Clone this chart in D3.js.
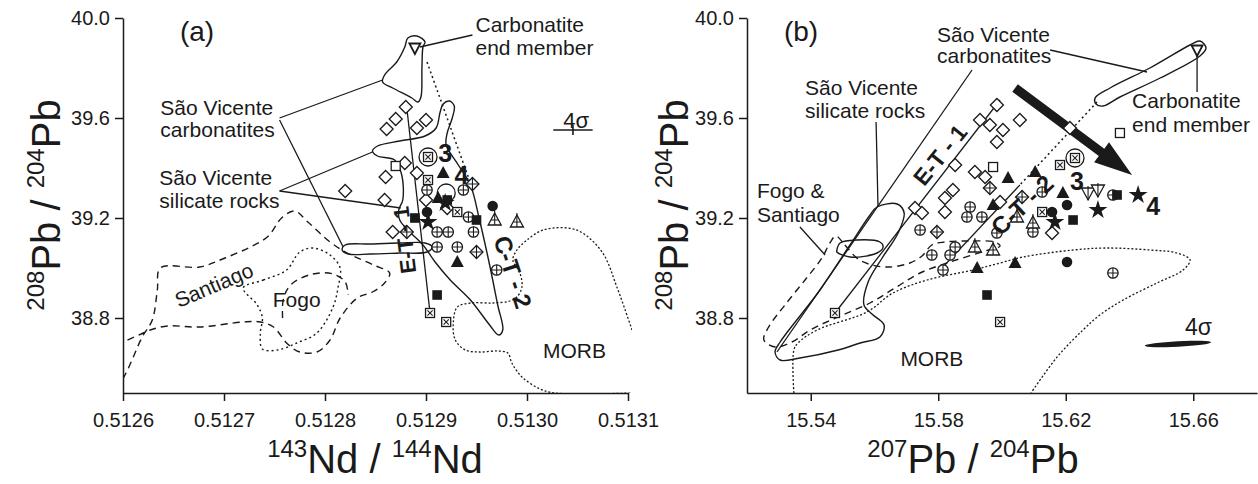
<!DOCTYPE html>
<html>
<head>
<meta charset="utf-8">
<script src="https://cdn.jsdelivr.net/npm/d3@7"></script>
<style>
  body { margin: 0; background: #fff; }
  svg { display: block; }
  text { font-family: "Liberation Sans", Arial, sans-serif; fill: #1a1a1a; }
</style>
</head>
<body>
<svg id="fig" width="1258" height="484"></svg>
<script>
// ---------------- Axis ticks ----------------
const ndTicks = [0.5126, 0.5127, 0.5128, 0.5129, 0.5130, 0.5131];
const pb207Ticks = [15.54, 15.58, 15.62, 15.66];
const pb208Ticks = [38.8, 39.2, 39.6, 40.0];

// ---------------- Panel (a): 143Nd/144Nd vs 208Pb/204Pb samples ----------------
const aDiamond = [[0.512880,39.644],[0.512870,39.596],[0.512861,39.556],[0.512891,39.560],[0.512900,39.592],
  [0.512879,39.420],[0.512891,39.380],[0.512860,39.364],[0.512859,39.272],[0.512867,39.144],
  [0.512900,39.272],[0.512921,39.240],[0.512820,39.308]];
const aSquare = [[0.512870,39.408]];
const aBoxX = [[0.512902,39.444],[0.512902,39.352],[0.512931,39.224],[0.512904,38.820],[0.512920,38.784]];
const aRinged = [[0.512902,39.444],[0.512920,39.300]];
const aCrossCircle = [[0.512901,39.312],[0.512937,39.312],[0.512911,39.144],[0.512922,39.144],[0.512942,39.204],
  [0.512947,39.144],[0.512911,39.084],[0.512970,38.992],[0.512931,39.084]];
const aCrossDiamond = [[0.512946,39.336],[0.512881,39.144],[0.512950,39.064]];
const aDot = [[0.512966,39.248],[0.512901,39.224]];
const aTriangle = [[0.512917,39.380],[0.512931,39.024],[0.512912,39.280]];
const aCrossTriangle = [[0.512968,39.192],[0.512990,39.184]];
const aBlock = [[0.512889,39.200],[0.512911,38.892],[0.512950,39.192],[0.512921,39.272]];
const aStar = [[0.512902,39.184],[0.512919,39.260]];
const aEndMember = [[0.512889,39.880]];

// fields and lines (a)
const aCarbTop = [[0.512882,39.920],[0.512891,39.928],[0.512899,39.904],[0.512897,39.884],[0.512896,39.804],
  [0.512895,39.684],[0.512892,39.664],[0.512886,39.680],[0.512867,39.720],[0.512857,39.744],[0.512859,39.772],
  [0.512871,39.824],[0.512879,39.884]];
const aCarbLow = [[0.512820,39.092],[0.512845,39.096],[0.512874,39.100],[0.512899,39.100],[0.512906,39.084],
  [0.512901,39.064],[0.512874,39.060],[0.512845,39.056],[0.512823,39.056],[0.512817,39.072]];
const aSilicate = [[0.512917,39.656],[0.512923,39.668],[0.512928,39.648],[0.512926,39.600],[0.512921,39.540],
  [0.512920,39.492],[0.512932,39.412],[0.512944,39.332],[0.512953,39.192],[0.512963,39.012],[0.512971,38.852],
  [0.512976,38.752],[0.512972,38.732],[0.512963,38.772],[0.512944,38.872],[0.512924,38.952],[0.512909,39.024],
  [0.512897,39.092],[0.512884,39.144],[0.512874,39.192],[0.512873,39.232],[0.512877,39.272],[0.512876,39.372],
  [0.512869,39.432],[0.512852,39.448],[0.512847,39.468],[0.512852,39.488],[0.512874,39.508],[0.512899,39.528],
  [0.512910,39.560],[0.512914,39.624]];
const aSantiago = [[0.512582,38.432],[0.512603,38.580],[0.512619,38.724],[0.512629,38.792],[0.512634,38.912],
  [0.512637,39.000],[0.512676,39.004],[0.512701,39.040],[0.512728,39.088],[0.512744,39.128],[0.512757,39.200],
  [0.512770,39.228],[0.512783,39.184],[0.512805,39.104],[0.512822,39.060],[0.512848,39.012],[0.512864,38.980],
  [0.512859,38.940],[0.512847,38.904],[0.512832,38.880],[0.512815,38.800],[0.512805,38.712],[0.512792,38.664],
  [0.512775,38.664],[0.512763,38.696],[0.512749,38.764],[0.512736,38.784],[0.512719,38.784],[0.512676,38.764],
  [0.512644,38.768],[0.512627,38.752],[0.512618,38.736],[0.512600,38.704],[0.512577,38.664]];
const aSantiagoInner = [[0.512758,38.800],[0.512759,38.880],[0.512767,38.936],[0.512788,38.976],[0.512808,38.976],
  [0.512820,38.944],[0.512823,38.892]];
const aFogo = [[0.512719,38.920],[0.512739,38.952],[0.512762,38.992],[0.512775,39.064],[0.512788,39.080],
  [0.512805,39.052],[0.512815,39.000],[0.512813,38.924],[0.512808,38.844],[0.512792,38.740],[0.512772,38.700],
  [0.512753,38.672],[0.512738,38.676],[0.512736,38.740],[0.512738,38.800],[0.512733,38.852]];
const aMorb = [[0.513104,38.752],[0.513089,38.924],[0.513075,39.060],[0.513055,39.140],[0.513040,39.160],
  [0.513016,39.152],[0.513000,39.112],[0.512990,39.072],[0.512986,39.032],[0.512993,38.980],[0.512995,38.924],
  [0.512990,38.884],[0.512983,38.868],[0.512966,38.860],[0.512944,38.860],[0.512931,38.844],[0.512927,38.780],
  [0.512929,38.712],[0.512939,38.672],[0.512953,38.664],[0.512971,38.668],[0.512981,38.660],[0.512985,38.620],
  [0.512995,38.564],[0.513013,38.516],[0.513028,38.500],[0.513104,38.500]];
const aTieET1 = [[0.512881,39.640],[0.512904,38.820]];
const aMixLine = [[0.512901,39.824],[0.512944,39.340]];
const aLeaders = [
  [[0.512755,39.600],[0.512857,39.752]],
  [[0.512755,39.592],[0.512818,39.084]],
  [[0.512755,39.308],[0.512847,39.464]],
  [[0.512755,39.308],[0.512875,39.240]],
  [[0.512894,39.884],[0.512946,39.932]]
];
const aSigmaBar = [[0.513026,39.552],[0.513065,39.552]];

// ---------------- Panel (b): 207Pb/204Pb vs 208Pb/204Pb samples ----------------
const bDiamond = [[15.5984,39.652],[15.5931,39.592],[15.5962,39.572],[15.6003,39.552],[15.6056,39.592],
  [15.5984,39.504],[15.5853,39.412],[15.5915,39.384],[15.5947,39.364],[15.5846,39.312],[15.5821,39.280],
  [15.5727,39.240],[15.5749,39.220],[15.5821,39.224],[15.5994,39.264],[15.6157,39.140],[15.6213,39.560]];
const bSquare = [[15.5972,39.404],[15.6370,39.540]];
const bBoxX = [[15.6182,39.412],[15.6229,39.440],[15.6126,39.224],[15.5476,38.820],[15.5994,38.784]];
const bRinged = [[15.6229,39.440]];
const bCrossCircle = [[15.5900,39.244],[15.5937,39.204],[15.5890,39.204],[15.6126,39.304],[15.5984,39.140],
  [15.5743,39.152],[15.5780,39.052],[15.5837,39.052],[15.5853,39.084],[15.5815,38.992],[15.6097,39.144],
  [15.6348,39.292],[15.6348,38.980]];
const bCrossDiamond = [[15.5962,39.320],[15.6063,39.284],[15.5796,39.144]];
const bDot = [[15.6204,39.024],[15.6204,39.252],[15.6157,39.224]];
const bTriangle = [[15.6104,39.384],[15.6191,39.300],[15.6019,39.360],[15.5972,39.252],[15.6041,39.020],[15.5922,39.000]];
const bCrossTriangle = [[15.6047,39.204],[15.6097,39.180],[15.5972,39.072],[15.5915,39.084]];
const bCrossNabla = [[15.6270,39.300],[15.6301,39.312]];
const bBlock = [[15.6223,39.192],[15.6361,39.292],[15.5953,38.892]];
const bStar = [[15.6427,39.292],[15.6301,39.232],[15.6166,39.184]];
const bEndMember = [[15.6612,39.872]];

// fields and lines (b)
const bCarb = [[15.6292,39.680],[15.6339,39.720],[15.6464,39.800],[15.6590,39.892],[15.6621,39.908],[15.6640,39.880],
  [15.6621,39.848],[15.6496,39.760],[15.6370,39.684],[15.6317,39.648],[15.6295,39.656]];
const bCarbLow = [[15.5482,39.072],[15.5492,39.100],[15.5545,39.112],[15.5617,39.104],[15.5627,39.084],
  [15.5608,39.060],[15.5523,39.044],[15.5482,39.064]];
const bSilicate = [[15.5608,39.244],[15.5671,39.256],[15.5693,39.220],[15.5674,39.140],[15.5624,39.040],
  [15.5580,38.944],[15.5567,38.852],[15.5592,38.816],[15.5630,38.772],[15.5617,38.724],[15.5555,38.700],
  [15.5486,38.672],[15.5366,38.640],[15.5304,38.632],[15.5288,38.664],[15.5304,38.704],[15.5429,38.912],
  [15.5523,39.092],[15.5586,39.212]];
const bFogoSantiago = [[15.5479,39.128],[15.5507,39.092],[15.5548,39.036],[15.5592,39.012],[15.5649,39.004],
  [15.5711,39.020],[15.5749,39.048],[15.5780,39.092],[15.5821,39.104],[15.5900,39.108],[15.5978,39.104],
  [15.5994,39.088],[15.5947,39.068],[15.5837,39.024],[15.5743,38.980],[15.5664,38.920],[15.5586,38.860],
  [15.5492,38.808],[15.5398,38.752],[15.5341,38.704],[15.5288,38.684],[15.5253,38.712],[15.5266,38.760],
  [15.5319,38.852],[15.5382,38.952],[15.5435,39.040],[15.5460,39.100]];
const bMorb = [[15.5347,38.500],[15.5347,38.672],[15.5360,38.700],[15.5420,38.752],[15.5576,38.824],
  [15.5658,38.900],[15.5765,38.952],[15.5909,38.992],[15.5994,39.020],[15.6066,39.044],[15.6223,39.072],
  [15.6329,39.080],[15.6464,39.072],[15.6549,39.060],[15.6590,39.032],[15.6568,38.992],[15.6486,38.940],
  [15.6380,38.872],[15.6307,38.812],[15.6254,38.752],[15.6173,38.644],[15.6091,38.500]];
const bTieET1 = [[[15.5906,39.792],[15.5294,38.664]], [[15.5994,39.672],[15.5476,38.820]]];
const bTieCT2 = [[15.6056,39.332],[15.5806,38.992]];
const bMixLine = [[15.6298,39.664],[15.6056,39.332]];
const bLeaders = [
  [[15.6151,39.872],[15.6455,39.784]],
  [[15.5605,39.584],[15.5611,39.244]],
  [[15.5366,39.164],[15.5445,39.052]],
  [[15.6612,39.852],[15.6612,39.704]]
];
const bTrendArrow = [[15.6041,39.720],[15.6408,39.372]];
const bSigmaEllipse = {x: 15.6552, y: 38.696, dx: 0.0104, dy: 0.011};

// ---------------- Layout ----------------
const svg = d3.select("#fig");
const plotTop = 18, plotBottom = 393;
const y = d3.scaleLinear().domain([38.5, 40.0]).range([plotBottom, plotTop]);
const xa = d3.scaleLinear().domain([0.5126, 0.5131]).range([123, 628]);
const xb = d3.scaleLinear().domain([15.52, 15.68]).range([747, 1257]);

const INK = "#1a1a1a";

function axes(g, x, majorX, minorX, fmtX) {
  const ax = g.append("g").attr("transform", `translate(0,${plotBottom})`);
  ax.call(d3.axisBottom(x).tickValues(minorX).tickSize(5).tickSizeOuter(0).tickFormat(""));
  ax.call(d3.axisBottom(x).tickValues(majorX).tickSize(8).tickSizeOuter(0).tickPadding(12).tickFormat(fmtX));
  const ay = g.append("g").attr("transform", `translate(${x.range()[0]},0)`);
  ay.call(d3.axisLeft(y).tickValues(d3.range(0, 16).map(i => 38.5 + i * 0.1)).tickSize(5).tickSizeOuter(0).tickFormat(""));
  ay.call(d3.axisLeft(y).tickValues(pb208Ticks).tickSize(8).tickSizeOuter(0).tickPadding(5).tickFormat(d3.format(".1f")));
  g.selectAll(".domain, .tick line").attr("stroke", INK).attr("stroke-width", 1.5);
  g.selectAll(".tick text").attr("font-size", 20).attr("fill", INK)
    .attr("font-family", '"Liberation Sans", Arial, sans-serif');
}

function isoTitle(g, parts, xPos, yPos, rotate) {
  const t = g.append("text")
    .attr("text-anchor", "middle")
    .attr("transform", `translate(${xPos},${yPos})` + (rotate ? " rotate(-90)" : ""))
    .attr("font-size", 40);
  parts.forEach(([sup, el], i) => {
    t.append("tspan").attr("font-size", 24).attr("dy", -16).text(sup);
    t.append("tspan").attr("dy", 16).text(el + (i === 0 ? " / " : ""));
  });
}

function fieldLine(g, x, pts, closed, dash, width) {
  const line = d3.line().x(d => x(d[0])).y(d => y(d[1]))
    .curve(closed ? d3.curveCatmullRomClosed.alpha(0.5) : d3.curveCatmullRom.alpha(0.5));
  g.append("path").attr("d", line(pts)).attr("fill", "none")
    .attr("stroke", INK).attr("stroke-width", width || 1.4)
    .attr("stroke-dasharray", dash || null).attr("stroke-linejoin", "round");
}

function straight(g, x, seg, dash, width) {
  g.append("line").attr("x1", x(seg[0][0])).attr("y1", y(seg[0][1]))
    .attr("x2", x(seg[1][0])).attr("y2", y(seg[1][1]))
    .attr("stroke", INK).attr("stroke-width", width || 1.3)
    .attr("stroke-dasharray", dash || null);
}

// sample symbols
const SW = 1.3;
const drawers = {
  diamond: (s) => s.append("path").attr("d", "M0,-6.5L6.5,0L0,6.5L-6.5,0Z").attr("fill", "#fff").attr("stroke", INK).attr("stroke-width", SW),
  square: (s) => s.append("rect").attr("x", -4.5).attr("y", -4.5).attr("width", 9).attr("height", 9).attr("fill", "#fff").attr("stroke", INK).attr("stroke-width", SW),
  boxX: (s) => {
    s.append("rect").attr("x", -4.5).attr("y", -4.5).attr("width", 9).attr("height", 9).attr("fill", "#fff").attr("stroke", INK).attr("stroke-width", SW);
    s.append("path").attr("d", "M-2.6,-2.6L2.6,2.6M2.6,-2.6L-2.6,2.6").attr("stroke", INK).attr("stroke-width", 1.1);
  },
  ring: (s) => s.append("circle").attr("r", 9).attr("fill", "none").attr("stroke", INK).attr("stroke-width", SW),
  crossCircle: (s) => {
    s.append("circle").attr("r", 5.2).attr("fill", "#fff").attr("stroke", INK).attr("stroke-width", SW);
    s.append("path").attr("d", "M-5.2,0H5.2M0,-5.2V5.2").attr("stroke", INK).attr("stroke-width", 1.1);
  },
  crossDiamond: (s) => {
    s.append("path").attr("d", "M0,-6.5L6.5,0L0,6.5L-6.5,0Z").attr("fill", "#fff").attr("stroke", INK).attr("stroke-width", SW);
    s.append("path").attr("d", "M-6.5,0H6.5M0,-6.5V6.5").attr("stroke", INK).attr("stroke-width", 1.1);
  },
  dot: (s) => s.append("circle").attr("r", 5.3).attr("fill", INK),
  triangle: (s) => s.append("path").attr("d", "M0,-7L6.5,5L-6.5,5Z").attr("fill", INK),
  crossTriangle: (s) => {
    s.append("path").attr("d", "M0,-7L6.5,5L-6.5,5Z").attr("fill", "#fff").attr("stroke", INK).attr("stroke-width", SW);
    s.append("path").attr("d", "M0,-9V5M-3.5,0H3.5").attr("stroke", INK).attr("stroke-width", 1.1);
  },
  crossNabla: (s) => {
    s.append("path").attr("d", "M-6.5,-5L6.5,-5L0,7Z").attr("fill", "#fff").attr("stroke", INK).attr("stroke-width", SW);
    s.append("path").attr("d", "M0,-7V7").attr("stroke", INK).attr("stroke-width", 1.1);
  },
  block: (s) => s.append("rect").attr("x", -4.8).attr("y", -4.8).attr("width", 9.6).attr("height", 9.6).attr("fill", INK),
  star: (s) => s.append("path").attr("d", d3.symbol(d3.symbolStar, 110)()).attr("fill", INK),
  endMember: (s) => s.append("path").attr("d", "M-5.5,-4.5L5.5,-4.5L0,6Z").attr("fill", "#fff").attr("stroke", INK).attr("stroke-width", 1.8)
};

function plotSamples(g, x, kind, pts) {
  pts.forEach(p => {
    const s = g.append("g").attr("transform", `translate(${x(p[0])},${y(p[1])})`);
    drawers[kind](s);
  });
}

function label(g, x, txt, px, py, opts = {}) {
  const t = g.append("text")
    .attr("font-size", opts.size || 21)
    .attr("font-weight", opts.bold ? "bold" : null)
    .attr("text-anchor", opts.anchor || "start");
  if (opts.rot !== undefined) {
    t.attr("transform", `translate(${x(px)},${y(py)}) rotate(${opts.rot})`)
     .attr("dominant-baseline", "central");
  } else {
    t.attr("x", x(px)).attr("y", y(py));
  }
  t.text(txt);
}

function clip(id, x) {
  svg.append("clipPath").attr("id", id).append("rect")
    .attr("x", x.range()[0]).attr("y", plotTop - 10)
    .attr("width", x.range()[1] - x.range()[0] + 4).attr("height", plotBottom - plotTop + 10);
}

// ================= Panel (a) =================
clip("clipA", xa);
const ga = svg.append("g");
const fa = ga.append("g").attr("clip-path", "url(#clipA)");
fieldLine(fa, xa, aSantiago, false, "7,5");
fieldLine(fa, xa, aSantiagoInner, false, "7,5");
fieldLine(fa, xa, aFogo, true, "2,3");
fieldLine(fa, xa, aMorb, false, "2,2", 1.3);
fieldLine(fa, xa, aSilicate, true);
fieldLine(fa, xa, aCarbTop, true);
fieldLine(fa, xa, aCarbLow, true);
straight(fa, xa, aTieET1);
straight(fa, xa, aMixLine, "2,3", 1.5);
aLeaders.forEach(s => straight(ga, xa, s));

axes(ga, xa, ndTicks, d3.range(0, 26).map(i => 0.5126 + i * 0.00002), d3.format(".4f"));

plotSamples(ga, xa, "diamond", aDiamond);
plotSamples(ga, xa, "square", aSquare);
plotSamples(ga, xa, "crossCircle", aCrossCircle);
plotSamples(ga, xa, "crossDiamond", aCrossDiamond);
plotSamples(ga, xa, "crossTriangle", aCrossTriangle);
plotSamples(ga, xa, "boxX", aBoxX);
plotSamples(ga, xa, "ring", aRinged);
plotSamples(ga, xa, "dot", aDot);
plotSamples(ga, xa, "triangle", aTriangle);
plotSamples(ga, xa, "block", aBlock);
plotSamples(ga, xa, "star", aStar);
plotSamples(ga, xa, "endMember", aEndMember);

// 4-sigma error bar
straight(ga, xa, aSigmaBar, null, 1.6);
ga.append("line")
  .attr("x1", xa(d3.mean(aSigmaBar, d => d[0]))).attr("x2", xa(d3.mean(aSigmaBar, d => d[0])))
  .attr("y1", y(aSigmaBar[0][1]) - 5).attr("y2", y(aSigmaBar[0][1]) + 5)
  .attr("stroke", INK).attr("stroke-width", 1.6);
label(ga, xa, "4σ", 0.513036, 39.560, {size: 22});

label(ga, xa, "Carbonatite", 0.512949, 39.944);
label(ga, xa, "end member", 0.512949, 39.852);
label(ga, xa, "São Vicente", 0.512637, 39.612);
label(ga, xa, "carbonatites", 0.512637, 39.524);
label(ga, xa, "São Vicente", 0.512636, 39.332);
label(ga, xa, "silicate rocks", 0.512636, 39.240);
label(ga, xa, "Santiago", 0.512690, 38.932, {anchor: "middle", rot: -23});
label(ga, xa, "Fogo", 0.512772, 38.844, {anchor: "middle"});
label(ga, xa, "MORB", 0.513047, 38.640, {anchor: "middle"});
label(ga, xa, "3", 0.512919, 39.424, {anchor: "middle", bold: true, size: 25});
label(ga, xa, "4", 0.512935, 39.336, {anchor: "middle", bold: true, size: 25});
label(ga, xa, "E-T - 1", 0.512879, 39.112, {anchor: "middle", bold: true, size: 22, rot: -97});
label(ga, xa, "C-T - 2", 0.512986, 38.984, {anchor: "middle", bold: true, size: 24, rot: 72});

ga.append("text").attr("x", 197).attr("y", 41).attr("text-anchor", "middle").attr("font-size", 28).text("(a)");
isoTitle(ga, [["143", "Nd"], ["144", "Nd"]], 375, 473, false);
isoTitle(ga, [["208", "Pb"], ["204", "Pb"]], 60, 205, true);

// ================= Panel (b) =================
clip("clipB", xb);
const gb = svg.append("g");
const fb = gb.append("g").attr("clip-path", "url(#clipB)");
fieldLine(fb, xb, bMorb, false, "2,2", 1.3);
fieldLine(fb, xb, bFogoSantiago, true, "7,5");
fieldLine(fb, xb, bSilicate, true);
fieldLine(fb, xb, bCarbLow, true);
fieldLine(fb, xb, bCarb, true);
bTieET1.forEach(s => straight(fb, xb, s));
straight(fb, xb, bTieCT2);
straight(fb, xb, bMixLine, "2,3", 1.5);
bLeaders.forEach(s => straight(gb, xb, s));

axes(gb, xb, pb207Ticks, d3.range(0, 17).map(i => 15.52 + i * 0.01), d3.format(".2f"));

// trend arrow
(function () {
  const x1 = xb(bTrendArrow[0][0]), y1 = y(bTrendArrow[0][1]);
  const x2 = xb(bTrendArrow[1][0]), y2 = y(bTrendArrow[1][1]);
  const dx = x2 - x1, dy = y2 - y1, L = Math.hypot(dx, dy);
  const ux = dx / L, uy = dy / L, nx = -uy, ny = ux;
  const hw = 4.6, hl = 38, hh = 12.5;
  const bx = x2 - ux * hl, by = y2 - uy * hl;
  const p = [[x1 + nx * hw, y1 + ny * hw], [bx + nx * hw, by + ny * hw], [bx + nx * hh, by + ny * hh], [x2, y2],
             [bx - nx * hh, by - ny * hh], [bx - nx * hw, by - ny * hw], [x1 - nx * hw, y1 - ny * hw]];
  gb.append("path").attr("d", "M" + p.map(q => q.join(",")).join("L") + "Z").attr("fill", INK);
})();

plotSamples(gb, xb, "diamond", bDiamond);
plotSamples(gb, xb, "square", bSquare);
plotSamples(gb, xb, "crossCircle", bCrossCircle);
plotSamples(gb, xb, "crossDiamond", bCrossDiamond);
plotSamples(gb, xb, "crossTriangle", bCrossTriangle);
plotSamples(gb, xb, "crossNabla", bCrossNabla);
plotSamples(gb, xb, "boxX", bBoxX);
plotSamples(gb, xb, "ring", bRinged);
plotSamples(gb, xb, "dot", bDot);
plotSamples(gb, xb, "triangle", bTriangle);
plotSamples(gb, xb, "block", bBlock);
plotSamples(gb, xb, "star", bStar);
plotSamples(gb, xb, "endMember", bEndMember);

// 4-sigma error ellipse
gb.append("ellipse")
  .attr("cx", xb(bSigmaEllipse.x)).attr("cy", y(bSigmaEllipse.y))
  .attr("rx", xb(bSigmaEllipse.x + bSigmaEllipse.dx) - xb(bSigmaEllipse.x))
  .attr("ry", y(bSigmaEllipse.y) - y(bSigmaEllipse.y + bSigmaEllipse.dy))
  .attr("transform", `rotate(-3,${xb(bSigmaEllipse.x)},${y(bSigmaEllipse.y)})`)
  .attr("fill", INK);
label(gb, xb, "4σ", 15.6574, 38.732, {size: 23});

label(gb, xb, "São Vicente", 15.5796, 39.904);
label(gb, xb, "carbonatites", 15.5796, 39.820);
label(gb, xb, "São Vicente", 15.5382, 39.692);
label(gb, xb, "silicate rocks", 15.5382, 39.600);
label(gb, xb, "Carbonatite", 15.6408, 39.640);
label(gb, xb, "end member", 15.6408, 39.544);
label(gb, xb, "Fogo &", 15.5231, 39.280);
label(gb, xb, "Santiago", 15.5231, 39.184);
label(gb, xb, "MORB", 15.5780, 38.608, {anchor: "middle"});
label(gb, xb, "3", 15.6235, 39.312, {anchor: "middle", bold: true, size: 25});
label(gb, xb, "4", 15.6474, 39.212, {anchor: "middle", bold: true, size: 25});
label(gb, xb, "E-T - 1", 15.5806, 39.452, {anchor: "middle", bold: true, size: 23, rot: -51});
label(gb, xb, "C-T - 2", 15.6063, 39.252, {anchor: "middle", bold: true, size: 24, rot: -43});

gb.append("text").attr("x", 801).attr("y", 41).attr("text-anchor", "middle").attr("font-size", 28).text("(b)");
isoTitle(gb, [["207", "Pb"], ["204", "Pb"]], 973, 473, false);
isoTitle(gb, [["208", "Pb"], ["204", "Pb"]], 688, 205, true);
</script>
</body>
</html>
